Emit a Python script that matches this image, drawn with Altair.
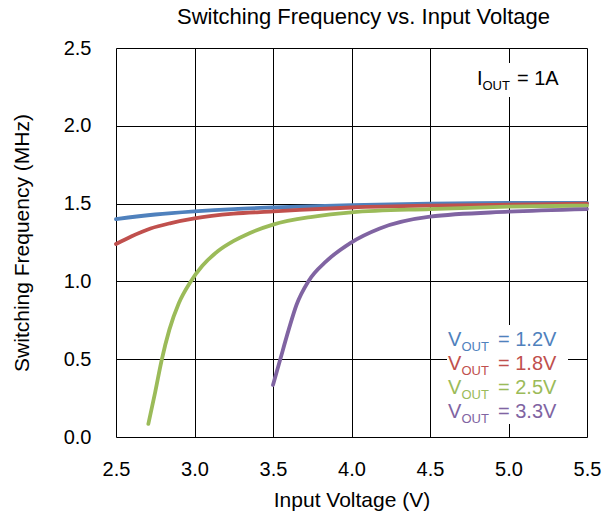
import altair as alt
import pandas as pd

FONT = "Liberation Sans"

# Data
vin_12 = [2.5, 2.75, 3.0, 3.25, 3.5, 4.0, 4.5, 5.0, 5.5]
f_12 = [1.40, 1.43, 1.45, 1.465, 1.475, 1.49, 1.50, 1.505, 1.505]
vin_18 = [2.5, 2.6, 2.72, 2.85, 3.0, 3.25, 3.5, 3.67, 4.0, 4.5, 5.0, 5.5]
f_18 = [1.24, 1.29, 1.34, 1.375, 1.405, 1.435, 1.45, 1.46, 1.475, 1.487, 1.493, 1.50]
vin_25 = [2.706, 2.75, 2.79, 2.84, 2.90, 2.97, 3.05, 3.15, 3.25, 3.35, 3.5, 3.75, 4.0, 4.5, 5.0, 5.5]
f_25 = [0.084, 0.29, 0.49, 0.69, 0.86, 0.99, 1.10, 1.195, 1.26, 1.31, 1.365, 1.415, 1.444, 1.465, 1.48, 1.487]
vin_33 = [3.50, 3.545, 3.60, 3.65, 3.725, 3.84, 3.99, 4.18, 4.5, 5.0, 5.5]
f_33 = [0.334, 0.495, 0.69, 0.85, 1.0, 1.13, 1.245, 1.34, 1.416, 1.448, 1.465]

series_names = ["1.2V", "1.8V", "2.5V", "3.3V"]
series_colors = ["#4F81BD", "#C0504D", "#9BBB59", "#8064A2"]
x_ticks = [2.5, 3.0, 3.5, 4.0, 4.5, 5.0, 5.5]
y_ticks = [0.0, 0.5, 1.0, 1.5, 2.0, 2.5]

rows = []
for name, xs, ys in zip(series_names, [vin_12, vin_18, vin_25, vin_33], [f_12, f_18, f_25, f_33]):
    for x, y in zip(xs, ys):
        rows.append({"series": name, "vin": x, "freq": y})
df = pd.DataFrame(rows)

one = pd.DataFrame({"k": [0]})

axis_common = dict(grid=True, gridColor="black", gridWidth=1, domain=False, ticks=False,
                   tickSize=0, labelFontSize=20, labelFont=FONT, labelColor="black",
                   labelFlush=False, labelOverlap=False, titleFont=FONT, titleFontSize=21,
                   titleFontWeight="normal", titleColor="black", format=".1f")

lines = alt.Chart(df).mark_line(strokeWidth=3.8, interpolate="monotone", strokeCap="round").encode(
    x=alt.X("vin:Q", scale=alt.Scale(domain=[2.5, 5.5], nice=False),
            axis=alt.Axis(values=x_ticks, title="Input Voltage (V)", labelPadding=22,
                          titleX=235.5, titleY=63, titleBaseline="middle", titleAlign="center",
                          **axis_common)),
    y=alt.Y("freq:Q", scale=alt.Scale(domain=[0, 2.5], nice=False),
            axis=alt.Axis(values=y_ticks, title="Switching Frequency (MHz)", labelPadding=25,
                          titleX=-94, titleY=194.5, titleAngle=-90, titleBaseline="middle",
                          titleAlign="center", **axis_common)),
    color=alt.Color("series:N", scale=alt.Scale(domain=series_names, range=series_colors), legend=None),
    detail="series:N",
)

bg1 = alt.Chart(one).mark_rect(fill="white").encode(
    x=alt.value(331), x2=alt.value(452), y=alt.value(277), y2=alt.value(376))
bg2 = alt.Chart(one).mark_rect(fill="white").encode(
    x=alt.value(354), x2=alt.value(450), y=alt.value(15), y2=alt.value(49))

layers = [bg1, bg2, lines]

def txt(s, x, y, size, color):
    return alt.Chart(one).mark_text(align="left", baseline="alphabetic", font=FONT,
                                    fontSize=size, color=color, text=s).encode(
        x=alt.value(x), y=alt.value(y))

# legend labels (plot-area coordinates)
base_y = [298, 322, 346, 370]
for name, col, by in zip(series_names, series_colors, base_y):
    layers.append(txt("V", 332, by, 20, col))
    layers.append(txt("OUT", 345.5, by + 5, 13, col))
    layers.append(txt("= " + name, 382, by, 20, col))

layers.append(txt("I", 361, 37, 20, "black"))
layers.append(txt("OUT", 366.5, 42, 13, "black"))
layers.append(txt("= 1A", 401, 37, 20, "black"))

chart = alt.layer(*layers).properties(
    width=471, height=389,
    autosize=alt.AutoSizeParams(type="none"),
    padding={"left": 116, "top": 48, "right": 24, "bottom": 84},
    title=alt.TitleParams("Switching Frequency vs. Input Voltage", font=FONT, fontSize=22,
                          fontWeight="normal", color="black", anchor="middle", offset=9, dx=12),
).configure_view(stroke="black", strokeWidth=2.5).configure(background="white")

chart.save("out.html", embed_options={"renderer": "svg", "actions": False})
